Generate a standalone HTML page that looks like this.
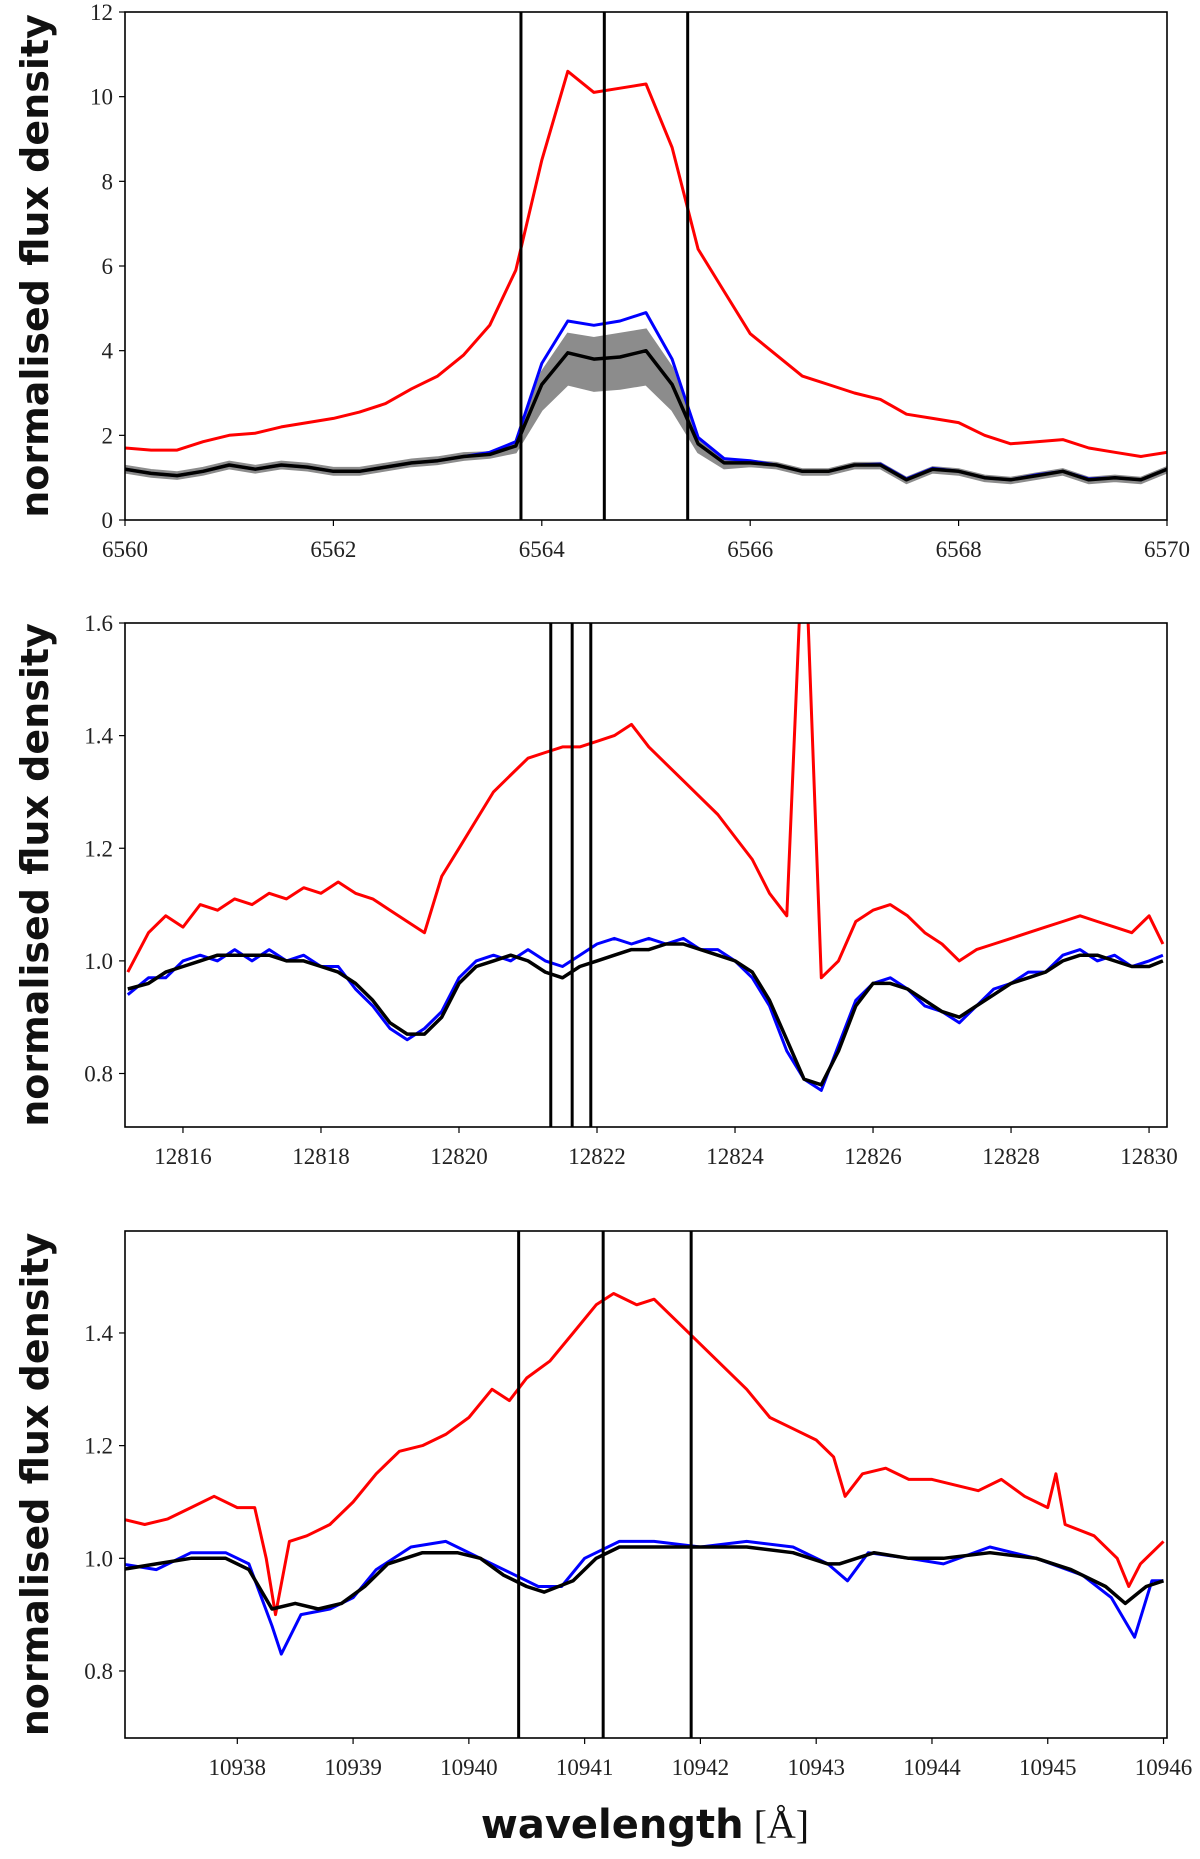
<!DOCTYPE html>
<html><head><meta charset="utf-8"><style>
body{margin:0;background:#fff;width:1200px;height:1854px;overflow:hidden}
svg text{font-family:"Liberation Serif",serif}
</style></head><body>
<svg id="fig" width="1200" height="1854" viewBox="0 0 1200 1854" xmlns="http://www.w3.org/2000/svg"></svg>
<script>
// ---- Panel 1 (H-alpha) ----
const p1Wave=[6560,6560.25,6560.5,6560.75,6561,6561.25,6561.5,6561.75,6562,6562.25,6562.5,6562.75,6563,6563.25,6563.5,6563.75,6564,6564.25,6564.5,6564.75,6565,6565.25,6565.5,6565.75,6566,6566.25,6566.5,6566.75,6567,6567.25,6567.5,6567.75,6568,6568.25,6568.5,6568.75,6569,6569.25,6569.5,6569.75,6570];
const p1Red=[1.7,1.65,1.65,1.85,2.0,2.05,2.2,2.3,2.4,2.55,2.75,3.1,3.4,3.9,4.6,5.9,8.5,10.6,10.1,10.2,10.3,8.8,6.4,5.4,4.4,3.9,3.4,3.2,3.0,2.85,2.5,2.4,2.3,2.0,1.8,1.85,1.9,1.7,1.6,1.5,1.6];
const p1Black=[1.2,1.1,1.05,1.15,1.3,1.2,1.3,1.25,1.15,1.15,1.25,1.35,1.4,1.5,1.55,1.75,3.2,3.95,3.8,3.85,4.0,3.2,1.8,1.35,1.35,1.3,1.15,1.15,1.3,1.3,0.95,1.2,1.15,1.0,0.95,1.05,1.15,0.95,1.0,0.95,1.2];
const p1Blue=[1.2,1.1,1.05,1.15,1.3,1.2,1.3,1.25,1.15,1.15,1.25,1.35,1.4,1.5,1.6,1.85,3.7,4.7,4.6,4.7,4.9,3.8,1.95,1.45,1.4,1.3,1.15,1.15,1.3,1.32,0.97,1.22,1.15,1.0,0.95,1.07,1.15,0.97,1.0,0.95,1.2];
const p1GrayLo=[1.12,1.02,0.97,1.07,1.22,1.12,1.22,1.17,1.07,1.07,1.17,1.27,1.32,1.42,1.47,1.6,2.6,3.2,3.05,3.1,3.2,2.6,1.6,1.22,1.27,1.22,1.07,1.07,1.22,1.22,0.87,1.12,1.07,0.92,0.87,0.97,1.07,0.87,0.92,0.87,1.12];
const p1GrayHi=[1.28,1.18,1.13,1.23,1.38,1.28,1.38,1.33,1.23,1.23,1.33,1.43,1.48,1.58,1.6,1.8,3.5,4.4,4.3,4.4,4.5,3.6,1.9,1.4,1.4,1.35,1.2,1.2,1.35,1.35,1.0,1.25,1.2,1.05,1.0,1.1,1.2,1.0,1.05,1.0,1.25];
const p1Lines=[6563.8,6564.6,6565.4];
const p1XTicks=[6560,6562,6564,6566,6568,6570];
const p1YTicks=[0,2,4,6,8,10,12];
// ---- Panel 2 ----
const p2Wave=[12815.2,12815.5,12815.75,12816,12816.25,12816.5,12816.75,12817,12817.25,12817.5,12817.75,12818,12818.25,12818.5,12818.75,12819,12819.25,12819.5,12819.75,12820,12820.25,12820.5,12820.75,12821,12821.25,12821.5,12821.75,12822,12822.25,12822.5,12822.75,12823,12823.25,12823.5,12823.75,12824,12824.25,12824.5,12824.75,12825,12825.25,12825.5,12825.75,12826,12826.25,12826.5,12826.75,12827,12827.25,12827.5,12827.75,12828,12828.25,12828.5,12828.75,12829,12829.25,12829.5,12829.75,12830,12830.2];
const p2Red=[0.98,1.05,1.08,1.06,1.1,1.09,1.11,1.1,1.12,1.11,1.13,1.12,1.14,1.12,1.11,1.09,1.07,1.05,1.15,1.2,1.25,1.3,1.33,1.36,1.37,1.38,1.38,1.39,1.4,1.42,1.38,1.35,1.32,1.29,1.26,1.22,1.18,1.12,1.08,1.8,0.97,1.0,1.07,1.09,1.1,1.08,1.05,1.03,1.0,1.02,1.03,1.04,1.05,1.06,1.07,1.08,1.07,1.06,1.05,1.08,1.03];
const p2Black=[0.95,0.96,0.98,0.99,1.0,1.01,1.01,1.01,1.01,1.0,1.0,0.99,0.98,0.96,0.93,0.89,0.87,0.87,0.9,0.96,0.99,1.0,1.01,1.0,0.98,0.97,0.99,1.0,1.01,1.02,1.02,1.03,1.03,1.02,1.01,1.0,0.98,0.93,0.86,0.79,0.78,0.84,0.92,0.96,0.96,0.95,0.93,0.91,0.9,0.92,0.94,0.96,0.97,0.98,1.0,1.01,1.01,1.0,0.99,0.99,1.0];
const p2Blue=[0.94,0.97,0.97,1.0,1.01,1.0,1.02,1.0,1.02,1.0,1.01,0.99,0.99,0.95,0.92,0.88,0.86,0.88,0.91,0.97,1.0,1.01,1.0,1.02,1.0,0.99,1.01,1.03,1.04,1.03,1.04,1.03,1.04,1.02,1.02,1.0,0.97,0.92,0.84,0.79,0.77,0.85,0.93,0.96,0.97,0.95,0.92,0.91,0.89,0.92,0.95,0.96,0.98,0.98,1.01,1.02,1.0,1.01,0.99,1.0,1.01];
const p2Lines=[12821.33,12821.64,12821.91];
const p2XTicks=[12816,12818,12820,12822,12824,12826,12828,12830];
const p2YTicks=[0.8,1.0,1.2,1.4,1.6];
// ---- Panel 3 ----
const p3RedWave=[10937.0,10937.2,10937.4,10937.6,10937.8,10938.0,10938.15,10938.25,10938.33,10938.45,10938.6,10938.8,10939.0,10939.2,10939.4,10939.6,10939.8,10940.0,10940.2,10940.35,10940.5,10940.7,10940.9,10941.1,10941.25,10941.45,10941.6,10941.8,10942.0,10942.2,10942.4,10942.6,10942.8,10943.0,10943.15,10943.25,10943.4,10943.6,10943.8,10944.0,10944.2,10944.4,10944.6,10944.8,10945.0,10945.07,10945.15,10945.4,10945.6,10945.7,10945.8,10946.0];
const p3Red=[1.07,1.06,1.07,1.09,1.11,1.09,1.09,1.0,0.9,1.03,1.04,1.06,1.1,1.15,1.19,1.2,1.22,1.25,1.3,1.28,1.32,1.35,1.4,1.45,1.47,1.45,1.46,1.42,1.38,1.34,1.3,1.25,1.23,1.21,1.18,1.11,1.15,1.16,1.14,1.14,1.13,1.12,1.14,1.11,1.09,1.15,1.06,1.04,1.0,0.95,0.99,1.03];
const p3BlackWave=[10937.0,10937.3,10937.6,10937.9,10938.1,10938.3,10938.5,10938.7,10938.9,10939.1,10939.3,10939.6,10939.9,10940.1,10940.3,10940.5,10940.65,10940.9,10941.1,10941.3,10941.6,10942.0,10942.4,10942.8,10943.1,10943.2,10943.5,10943.8,10944.1,10944.5,10944.9,10945.2,10945.5,10945.67,10945.85,10946.0];
const p3Black=[0.98,0.99,1.0,1.0,0.98,0.91,0.92,0.91,0.92,0.95,0.99,1.01,1.01,1.0,0.97,0.95,0.94,0.96,1.0,1.02,1.02,1.02,1.02,1.01,0.99,0.99,1.01,1.0,1.0,1.01,1.0,0.98,0.95,0.92,0.95,0.96];
const p3BlueWave=[10937.0,10937.3,10937.6,10937.9,10938.1,10938.3,10938.38,10938.55,10938.8,10939.0,10939.2,10939.5,10939.8,10940.1,10940.4,10940.6,10940.8,10941.0,10941.3,10941.6,10942.0,10942.4,10942.8,10943.1,10943.27,10943.45,10943.8,10944.1,10944.5,10944.9,10945.3,10945.55,10945.75,10945.9,10946.0];
const p3Blue=[0.99,0.98,1.01,1.01,0.99,0.88,0.83,0.9,0.91,0.93,0.98,1.02,1.03,1.0,0.97,0.95,0.95,1.0,1.03,1.03,1.02,1.03,1.02,0.99,0.96,1.01,1.0,0.99,1.02,1.0,0.97,0.93,0.86,0.96,0.96];
const p3Lines=[10940.43,10941.16,10941.92];
const p3XTicks=[10938,10939,10940,10941,10942,10943,10944,10945,10946];
const p3YTicks=[0.8,1.0,1.2,1.4];

const NS='http://www.w3.org/2000/svg';
const svg=document.getElementById('fig');
function mk(tag,attrs,parent){const e=document.createElementNS(NS,tag);for(const k in attrs)e.setAttribute(k,attrs[k]);(parent||svg).appendChild(e);return e;}

function panel(id,box,xd,yd,xticks,yticks,ydec){
  const g=mk('g',{});
  
  
  const sx=v=>box.l+(v-xd[0])/(xd[1]-xd[0])*(box.r-box.l);
  const sy=v=>box.b-(v-yd[0])/(yd[1]-yd[0])*(box.b-box.t);
  const cp=mk('clipPath',{id:id+'-clip'},g);
  mk('rect',{x:box.l,y:box.t,width:box.r-box.l,height:box.b-box.t},cp);
  const plot=mk('g',{'clip-path':'url(#'+id+'-clip)'},g);
  return {g,plot,sx,sy,box,xticks,yticks,ydec};
}
function line(P,name,xs,ys,color,w){
  const d=xs.map((x,i)=>(i?'L':'M')+P.sx(x).toFixed(1)+','+P.sy(ys[i]).toFixed(1)).join('');
  const e=mk('path',{d,fill:'none',stroke:color,'stroke-width':w,'stroke-linejoin':'round'},P.plot);
  
  
}
function band(P,name,xs,lo,hi,color){
  let d=xs.map((x,i)=>(i?'L':'M')+P.sx(x).toFixed(1)+','+P.sy(hi[i]).toFixed(1)).join('');
  for(let i=xs.length-1;i>=0;i--)d+='L'+P.sx(xs[i]).toFixed(1)+','+P.sy(lo[i]).toFixed(1);
  const e=mk('path',{d:d+'Z',fill:color,stroke:color,'stroke-width':2},P.plot);
  
  
}
function vlines(P,name,vals){
  vals.forEach(v=>{
    const e=mk('line',{x1:P.sx(v),x2:P.sx(v),y1:P.box.t,y2:P.box.b,stroke:'#000','stroke-width':3},P.plot);
    
    
  });
}
function axes(P,ylab){
  const b=P.box;
  const fr=mk('rect',{x:b.l,y:b.t,width:b.r-b.l,height:b.b-b.t,fill:'none',stroke:'#000','stroke-width':1.6},P.g);
  
  
  P.xticks.forEach(v=>{
    const x=P.sx(v);
    mk('line',{x1:x,x2:x,y1:b.b,y2:b.b+6,stroke:'#000','stroke-width':1.2},P.g);
    const t=mk('text',{x:x,y:b.b+37,'text-anchor':'middle','font-size':23,fill:'#222'},P.g);
    t.textContent=v;
    
    
  });
  P.yticks.forEach(v=>{
    const y=P.sy(v);
    mk('line',{x1:b.l-6,x2:b.l,y1:y,y2:y,stroke:'#000','stroke-width':1.2},P.g);
    const t=mk('text',{x:b.l-12,y:y+8,'text-anchor':'end','font-size':23,fill:'#222'},P.g);
    t.textContent=v.toFixed(P.ydec);
    
    
  });
  const cy=(b.t+b.b)/2;
  const yl=mk('text',{x:0,y:0,transform:'translate(48,'+cy+') rotate(-90)','text-anchor':'middle','font-size':38,'font-weight':'bold',fill:'#111',style:'font-family:"DejaVu Sans",sans-serif'},P.g);
  yl.textContent=ylab;
  
  
}

// Panel 1
const P1=panel('panel-halpha',{l:125,r:1167,t:12,b:520},[6560,6570],[0,12],p1XTicks,p1YTicks,0);
band(P1,'gray-spectra-band',p1Wave,p1GrayLo,p1GrayHi,'#8c8c8c');
line(P1,'red-spectrum',p1Wave,p1Red,'#f00',3);
line(P1,'blue-spectrum',p1Wave,p1Blue,'#00f',3);
line(P1,'black-mean-spectrum',p1Wave,p1Black,'#000',3.5);
vlines(P1,'vertical-marker',p1Lines);
axes(P1,'normalised flux density');

// Panel 2
const P2=panel('panel-12820',{l:125,r:1167,t:623,b:1127},[12815.16,12830.26],[0.705,1.6],p2XTicks,p2YTicks,1);
line(P2,'red-spectrum',p2Wave,p2Red,'#f00',3);
line(P2,'blue-spectrum',p2Wave,p2Blue,'#00f',3);
line(P2,'black-mean-spectrum',p2Wave,p2Black,'#000',3.5);
vlines(P2,'vertical-marker',p2Lines);
axes(P2,'normalised flux density');

// Panel 3
const P3=panel('panel-10940',{l:125,r:1167,t:1231,b:1738},[10937.03,10946.03],[0.681,1.581],p3XTicks,p3YTicks,1);
line(P3,'red-spectrum',p3RedWave,p3Red,'#f00',3);
line(P3,'blue-spectrum',p3BlueWave,p3Blue,'#00f',3);
line(P3,'black-mean-spectrum',p3BlackWave,p3Black,'#000',3.5);
vlines(P3,'vertical-marker',p3Lines);
axes(P3,'normalised flux density');

const xl=mk('text',{x:645,y:1838,'text-anchor':'middle','font-size':40,fill:'#111'});
xl.innerHTML='<tspan style="font-family:\'DejaVu Sans\',sans-serif;font-weight:bold">wavelength</tspan> <tspan>[Å]</tspan>';


</script>
</body></html>
